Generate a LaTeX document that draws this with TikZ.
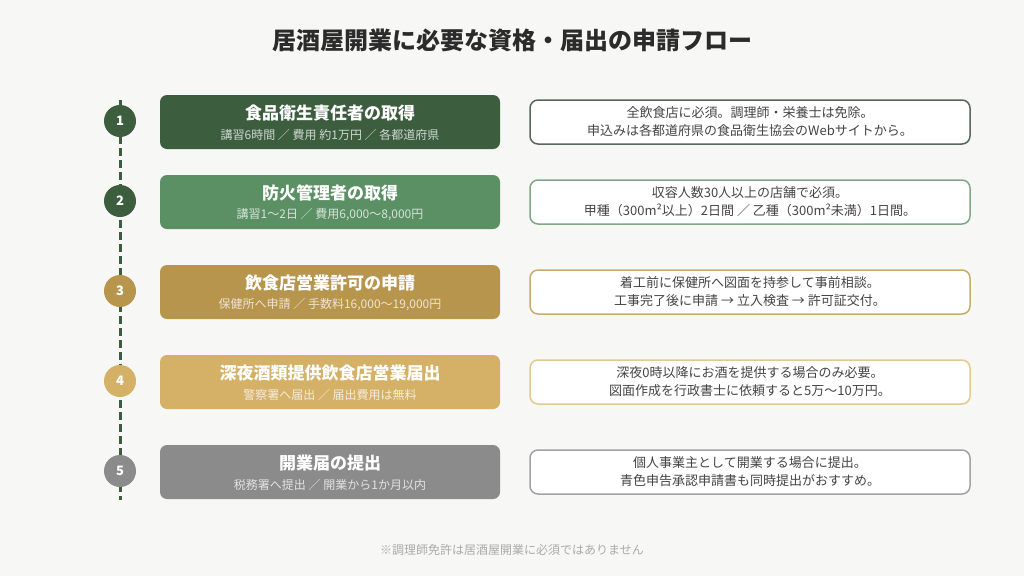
\documentclass[tikz,border=0pt]{standalone}
\usepackage{fontspec}
\setmainfont{Noto Sans CJK JP}
\definecolor{bg}{HTML}{F7F7F5}
\definecolor{titlec}{HTML}{2B2B2B}
\definecolor{bodyc}{HTML}{444444}
\definecolor{notec}{HTML}{AAAAAA}
\definecolor{cA}{HTML}{3C5E3F}
\definecolor{cB}{HTML}{5B9064}
\definecolor{cC}{HTML}{B8954C}
\definecolor{cD}{HTML}{D5B167}
\definecolor{cE}{HTML}{8B8B8B}
\definecolor{rA}{HTML}{56685A}
\definecolor{rB}{HTML}{80A886}
\definecolor{rC}{HTML}{C9AB6B}
\definecolor{rD}{HTML}{E3C98F}
\definecolor{rE}{HTML}{A3A3A3}
\tikzset{
  stepbox/.style={rounded corners=7pt, minimum width=340pt, minimum height=54pt, inner sep=0pt, fill=#1},
  steptitle/.style={text=white, font=\bfseries\fontsize{17}{20}\selectfont, inner sep=0pt},
  stepsub/.style={text=white!75!#1, font=\fontsize{12}{14}\selectfont, inner sep=0pt},
  notebox/.style={rounded corners=8pt, minimum width=440pt, minimum height=44pt, inner sep=0pt,
    fill=white, draw=#1, line width=1.5pt, text=bodyc, align=center,
    font=\fontsize{13}{18}\selectfont},
  stepnum/.style={circle, minimum size=32pt, inner sep=0pt, fill=#1, text=white,
    font=\bfseries\fontsize{13}{15}\selectfont},
  timeline/.style={line width=3pt, dash pattern=on 8pt off 4pt, draw=cA}
}
\begin{document}
\begin{tikzpicture}[x=1pt,y=-1pt]
\fill[bg] (0,0) rectangle (1024,576);
\useasboundingbox (0,0) rectangle (1024,576);

\node[text=titlec, font=\bfseries\fontsize{24}{28}\selectfont] (title) at (512,40) {居酒屋開業に必要な資格・届出の申請フロー};

\coordinate (ltop) at (120,100);
\coordinate (lbot) at (120,500);
\draw[timeline] (ltop) -- (lbot);

% step 1
\node[stepnum=cA] (n1) at (120,121) {1};
\node[stepbox=cA] (b1) at (330,122) {};
\node[steptitle] (t1) at ([yshift=9pt]b1.center) {食品衛生責任者の取得};
\node[stepsub=cA] (s1) at ([yshift=-13pt]b1.center) {講習6時間 ／ 費用 約1万円 ／ 各都道府県};
\node[notebox=rA] (r1) at (750,122) {全飲食店に必須。調理師・栄養士は免除。\\申込みは各都道府県の食品衛生協会のWebサイトから。};

% step 2
\node[stepnum=cA] (n2) at (120,201) {2};
\node[stepbox=cB] (b2) at (330,202) {};
\node[steptitle] (t2) at ([yshift=9pt]b2.center) {防火管理者の取得};
\node[stepsub=cB] (s2) at ([yshift=-13pt]b2.center) {講習1～2日 ／ 費用6,000～8,000円};
\node[notebox=rB] (r2) at (750,202) {収容人数30人以上の店舗で必須。\\甲種（300m²以上）2日間 ／ 乙種（300m²未満）1日間。};

% step 3
\node[stepnum=cC] (n3) at (120,291) {3};
\node[stepbox=cC] (b3) at (330,292) {};
\node[steptitle] (t3) at ([yshift=9pt]b3.center) {飲食店営業許可の申請};
\node[stepsub=cC] (s3) at ([yshift=-13pt]b3.center) {保健所へ申請 ／ 手数料16,000～19,000円};
\node[notebox=rC] (r3) at (750,292) {着工前に保健所へ図面を持参して事前相談。\\工事完了後に申請 → 立入検査 → 許可証交付。};

% step 4
\node[stepnum=cD] (n4) at (120,381) {4};
\node[stepbox=cD] (b4) at (330,382) {};
\node[steptitle] (t4) at ([yshift=9pt]b4.center) {深夜酒類提供飲食店営業届出};
\node[stepsub=cD] (s4) at ([yshift=-13pt]b4.center) {警察署へ届出 ／ 届出費用は無料};
\node[notebox=rD] (r4) at (750,382) {深夜0時以降にお酒を提供する場合のみ必要。\\図面作成を行政書士に依頼すると5万～10万円。};

% step 5
\node[stepnum=cE] (n5) at (120,471) {5};
\node[stepbox=cE] (b5) at (330,472) {};
\node[steptitle] (t5) at ([yshift=9pt]b5.center) {開業届の提出};
\node[stepsub=cE] (s5) at ([yshift=-13pt]b5.center) {税務署へ提出 ／ 開業から1か月以内};
\node[notebox=rE] (r5) at (750,472) {個人事業主として開業する場合に提出。\\青色申告承認申請書も同時提出がおすすめ。};

\node[text=notec, font=\fontsize{12}{14}\selectfont] (note) at (512,550) {※調理師免許は居酒屋開業に必須ではありません};
\end{tikzpicture}
\end{document}
